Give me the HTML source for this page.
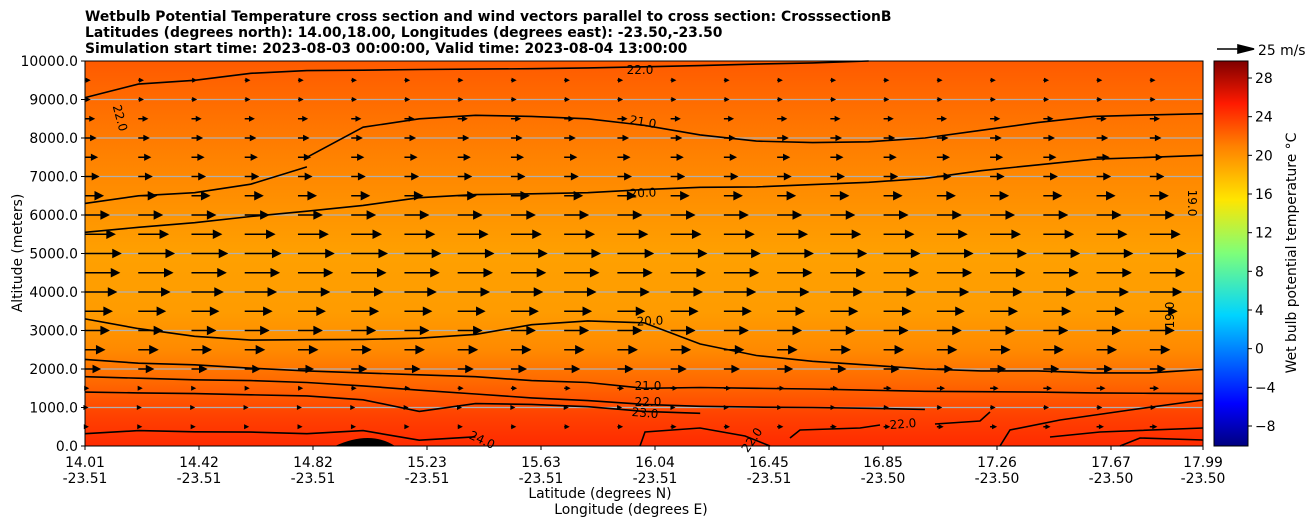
<!DOCTYPE html>
<html><head><meta charset="utf-8"><style>
body{margin:0;background:#fff;width:1311px;height:526px;overflow:hidden;font-family:"DejaVu Sans",sans-serif}
svg text{font-family:"DejaVu Sans",sans-serif}
</style></head><body>
<svg id="c" width="1311" height="526" xmlns="http://www.w3.org/2000/svg">
<defs>
<linearGradient id="bg" x1="0" y1="1" x2="0" y2="0">
<stop offset="0" stop-color="#ff2a00"/><stop offset="0.08" stop-color="#ff4200"/>
<stop offset="0.16" stop-color="#ff6600"/><stop offset="0.25" stop-color="#ff8a00"/>
<stop offset="0.35" stop-color="#ff9c00"/><stop offset="0.5" stop-color="#ffa000"/>
<stop offset="0.62" stop-color="#ff9200"/><stop offset="0.75" stop-color="#ff8200"/>
<stop offset="0.88" stop-color="#ff6e00"/><stop offset="1" stop-color="#ff5a00"/>
</linearGradient>
<linearGradient id="jet" x1="0" y1="1" x2="0" y2="0">
<stop offset="0" stop-color="#00007f"/><stop offset="0.11" stop-color="#0000ff"/>
<stop offset="0.34" stop-color="#00d4ff"/><stop offset="0.5" stop-color="#7dff7a"/>
<stop offset="0.64" stop-color="#ffe500"/><stop offset="0.78" stop-color="#ff8000"/>
<stop offset="0.89" stop-color="#ff1a00"/><stop offset="1" stop-color="#7f0000"/>
</linearGradient>
</defs>
<g id="plot"></g>
</svg>
<script>
const NS="http://www.w3.org/2000/svg";
const xTickLat=["14.01","14.42","14.82","15.23","15.63","16.04","16.45","16.85","17.26","17.67","17.99"];
const xTickLon=["-23.51","-23.51","-23.51","-23.51","-23.51","-23.51","-23.51","-23.50","-23.50","-23.50","-23.50"];
const yTicks=[0,1000,2000,3000,4000,5000,6000,7000,8000,9000,10000];
const cbTicks=[-8,-4,0,4,8,12,16,20,24,28];
const windAlt=[500,1000,1500,2000,2500,3000,3500,4000,4500,5000,5500,6000,6500,7000,7500,8000,8500,9000,9500];
const windSpeed=[1.5,1,2,9,12,15,17,20,22,23,19,15,11,8,7,6,5,2,2];
const contourLevels=["22.0","21.0","21.0","20.0","20.0","21.0","22.0","23.0","24.0"];
const contourX=[14.01,14.2,14.4,14.6,14.8,15.0,15.2,15.4,15.6,15.8,16.0,16.2,16.4,16.6,16.8,17.0,17.2,17.4,17.6,17.8,17.99];
const contourAlt=[
 [9050,9400,9500,9680,9750,9760,9780,9790,9800,9820,9850,9880,9920,9950,10050,null,null,null,null,null,null],
 [null,null,null,null,7500,8280,8500,8590,8560,8500,8330,8080,7920,7880,7900,8000,8200,8400,8560,8600,8630],
 [6300,6500,6580,6800,7250,null,null,null,null,null,null,null,null,null,null,null,null,null,null,null,null],
 [5550,5680,5800,5960,6100,6250,6450,6530,6550,6580,6660,6720,6730,6790,6850,6950,7150,7300,7450,7500,7550],
 [3300,3050,2850,2750,2760,2770,2800,2900,3150,3250,3200,2650,2350,2200,2100,2000,1950,1950,1900,1900,1990],
 [2250,2150,2110,2020,1950,1900,1850,1800,1700,1650,1500,1520,1500,1480,1450,1420,1410,1400,1380,1370,1360],
 [1800,1760,1720,1700,1650,1560,1450,1350,1250,1180,1080,1030,1010,1000,980,950,null,null,null,null,null],
 [1400,1380,1360,1330,1300,1200,900,1100,1080,1020,900,850,null,null,null,null,null,null,null,null,null],
 [320,400,370,360,320,400,150,240,null,null,null,null,null,null,null,null,null,null,null,null,null]
];
const FS=13.9;
const X0=85,X1=1203,Y0=446,Y1=61;
const xs=v=>X0+(v-14.01)/(17.99-14.01)*(X1-X0);
const ys=v=>Y0-v/10000*(Y0-Y1);
const cs=v=>446-(v+10.07)/(29.76+10.07)*385;
const plot=document.getElementById('plot');
function el(t,a,txt){const e=document.createElementNS(NS,t);for(const k in a)e.setAttribute(k,a[k]);if(txt!=null)e.textContent=txt;plot.appendChild(e);return e;}
let r=el('rect',{x:X0,y:Y1,width:X1-X0,height:Y0-Y1,fill:'url(#bg)'});


yTicks.forEach(v=>{if(v>0&&v<10000){let g=el('line',{x1:X0,x2:X1,y1:ys(v),y2:ys(v),stroke:'#b0b0b0','stroke-width':1.2});

}});
contourAlt.forEach((row,i)=>{let d='',pen=false;row.forEach((a,j)=>{if(a==null){pen=false;return;}d+=(pen?'L':'M')+xs(contourX[j]).toFixed(1)+','+ys(Math.min(a,10000)).toFixed(1);pen=true;});
let p=el('path',{d:d,fill:'none',stroke:'#000','stroke-width':1.6});

});
let sq=el('path',{d:'M640,446 L645,432 L700,428 L745,436 L770,446 M790,438 L800,430 L860,428 L880,425 M935,424 L980,421 L990,412 M1000,446 L1010,430 L1060,420 L1130,410 L1203,400 M1050,437 L1100,432 L1203,428 M1120,446 L1140,438 L1203,440',fill:'none',stroke:'#000','stroke-width':1.6});


let t=el('path',{d:'M335,446 Q370,430 395,446 Z',fill:'#000'});


[["22.0",640,70,0],["21.0",643,122,10],["20.0",643,193,-3],["20.0",650,321,-3],["21.0",648,386,0],["22.0",648,402,0],["23.0",645,413,5],["24.0",482,440,25],["22.0",903,424,-5],["22.0",752,440,-55],["19.0",1170,315,-90],["22.0",120,118,75],["19.0",1192,203,90]].forEach(l=>{
let tx=el('text',{x:l[1],y:l[2]+4,'font-size':12,'text-anchor':'middle',transform:`rotate(${l[3]} ${l[1]} ${l[2]})`},l[0]);

});
const pxPerMs=37/25;
windAlt.forEach((a,i)=>{for(let c=0;c<21;c++){const x=X0+c*53.24,y=ys(a);const L=windSpeed[i]*pxPerMs*(i<3?(0.5+c/12):1);
if(x>X1)continue;
const h=Math.min(7,Math.max(2.5,L*0.45));
let g=el('path',{d:`M${x},${y}L${x+L},${y}M${x+L-h+1},${y-h*0.5}L${x+L+1},${y}L${x+L-h+1},${y+h*0.5}Z`,stroke:'#000','stroke-width':1.6,fill:'#000'});

}});
let f=el('rect',{x:X0,y:Y1,width:X1-X0,height:Y0-Y1,fill:'none',stroke:'#000','stroke-width':1});


yTicks.forEach(v=>{el('line',{x1:X0-4,x2:X0,y1:ys(v),y2:ys(v),stroke:'#000'});
let tx=el('text',{x:X0-7,y:ys(v)+5,'font-size':FS,'text-anchor':'end'},v.toFixed(1));

});
xTickLat.forEach((v,i)=>{const x=X0+i*114<X1?X0+i*114:X1;el('line',{x1:x,x2:x,y1:Y0,y2:Y0+4,stroke:'#000'});
let tx=el('text',{x:x,y:467,'font-size':FS,'text-anchor':'middle'},v);


let t2=el('text',{x:x,y:483,'font-size':FS,'text-anchor':'middle'},xTickLon[i]);

});
let xl=el('text',{x:600,y:498,'font-size':FS,'text-anchor':'middle'},'Latitude (degrees N)');


let xl2=el('text',{x:631,y:514,'font-size':FS,'text-anchor':'middle'},'Longitude (degrees E)');


let yl=el('text',{x:22,y:253,'font-size':FS,'text-anchor':'middle',transform:'rotate(-90 22 253)'},'Altitude (meters)');


['Wetbulb Potential Temperature cross section and wind vectors parallel to cross section: CrosssectionB','Latitudes (degrees north): 14.00,18.00, Longitudes (degrees east): -23.50,-23.50','Simulation start time: 2023-08-03 00:00:00, Valid time: 2023-08-04 13:00:00'].forEach((s,i)=>{
let tx=el('text',{x:85,y:21+i*16,'font-size':FS,'font-weight':'bold'},s);

});
let qk=el('path',{d:'M1217,49L1246,49M1238,45L1254,49L1238,53Z',stroke:'#000','stroke-width':1.6,fill:'#000'});


let qt=el('text',{x:1258,y:55,'font-size':FS},'25 m/s');


let cb=el('rect',{x:1214,y:61,width:34,height:385,fill:'url(#jet)',stroke:'#000','stroke-width':1});


cbTicks.forEach(v=>{el('line',{x1:1248,x2:1252,y1:cs(v),y2:cs(v),stroke:'#000'});
let tx=el('text',{x:1255,y:cs(v)+5,'font-size':FS},v<0?'\u2212'+(-v):String(v));

});
let cl=el('text',{x:1296,y:253,'font-size':FS,'text-anchor':'middle',transform:'rotate(-90 1296 253)'},'Wet bulb potential temperature \u00B0C');


</script>
</body></html>
